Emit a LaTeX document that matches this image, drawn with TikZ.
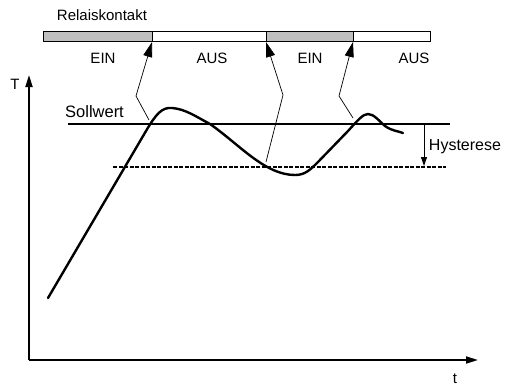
\documentclass[tikz,border=0pt]{standalone}
\usepackage{fontspec}
\setmainfont{Liberation Sans}
\usetikzlibrary{arrows.meta}
\definecolor{relaygray}{gray}{0.75}

\begin{document}
\begin{tikzpicture}
  [x=1pt,y=-1pt,
   every node/.style={font=\fontsize{15}{18}\selectfont,inner sep=0pt},
   seg/.style={draw,line width=0.8pt,minimum height=10pt,anchor=north west,outer sep=0pt},
   pointer/.style={line width=0.7pt,-{Triangle[length=15pt,width=9pt]}},
   curve/.style={line width=2.4pt,line join=round,line cap=round},
   axis/.style={line width=1.8pt,-{Triangle[length=12pt,width=7pt]}}]
  \useasboundingbox (0,0) rectangle (505,386);

  % relay contact bar
  \node[anchor=base] (relais) at (102,20) {Relaiskontakt};
  \node[seg,fill=relaygray,minimum width=109pt] (s1) at (43,31)  {};
  \node[seg,fill=white,minimum width=114pt]     (s2) at (152,31) {};
  \node[seg,fill=relaygray,minimum width=87pt]  (s3) at (266,31) {};
  \node[seg,fill=white,minimum width=77pt]      (s4) at (353,31) {};
  \node[anchor=base] (ein1) at (103,63) {EIN};
  \node[anchor=base] (aus1) at (212,63) {AUS};
  \node[anchor=base] (ein2) at (310,63) {EIN};
  \node[anchor=base] (aus2) at (414,63) {AUS};

  % axes
  \coordinate (o) at (29,360);
  \coordinate (ty) at (29,75);
  \coordinate (tx) at (478,360);
  \draw[axis] (o) -- (ty);
  \draw[axis] (o) -- (tx);
  \node[anchor=base] (tlab) at (15,89) {T};
  \node[anchor=base] (tlab2) at (455,383) {t};

  % set point and hysteresis
  \coordinate (sw1) at (68,124);
  \coordinate (sw2) at (450,124);
  \coordinate (hy1) at (113,167);
  \coordinate (hy2) at (446,167);
  \draw[line width=1.5pt] (sw1) -- (sw2);
  \draw[line width=1.4pt,dash pattern=on 4pt off 1.5pt] (hy1) -- (hy2);
  \node[anchor=base,font=\fontsize{16.5}{18}\selectfont] (soll) at (94.5,117) {Sollwert};
  \coordinate (ha) at (424,124);
  \coordinate (hb) at (424,166);
  \draw[line width=0.9pt,-{Triangle[length=9pt,width=6pt]}] (ha) -- (hb);
  \node[anchor=base,font=\fontsize{16}{18}\selectfont] (hyst) at (465,150) {Hysterese};

  % temperature curve
  \draw[curve] (48,298) -- (146,131)
    .. controls (156,114) and (162,107) .. (172,108)
    .. controls (185,109) and (195,116) .. (210,124)
    .. controls (240,145) and (265,175) .. (295,175)
    .. controls (305,175) and (310,170) .. (318,162)
    -- (348,131)
    .. controls (358,120) and (363,114) .. (368,114)
    .. controls (374,114) and (379,121) .. (385,126)
    .. controls (392,131) and (398,131) .. (403,133);

  % switching points
  \coordinate (p1) at (149,120);
  \coordinate (k1) at (136,96);
  \coordinate (p2) at (266,162);
  \coordinate (k2) at (283,95);
  \coordinate (p3) at (353,118);
  \coordinate (k3) at (339,96);
  \foreach \from/\via/\to in {p1/k1/s1.south east,p2/k2/s2.south east,p3/k3/s3.south east}
    \draw[pointer] (\from) -- (\via) -- ([yshift=-1pt]\to);

\end{tikzpicture}
\end{document}
